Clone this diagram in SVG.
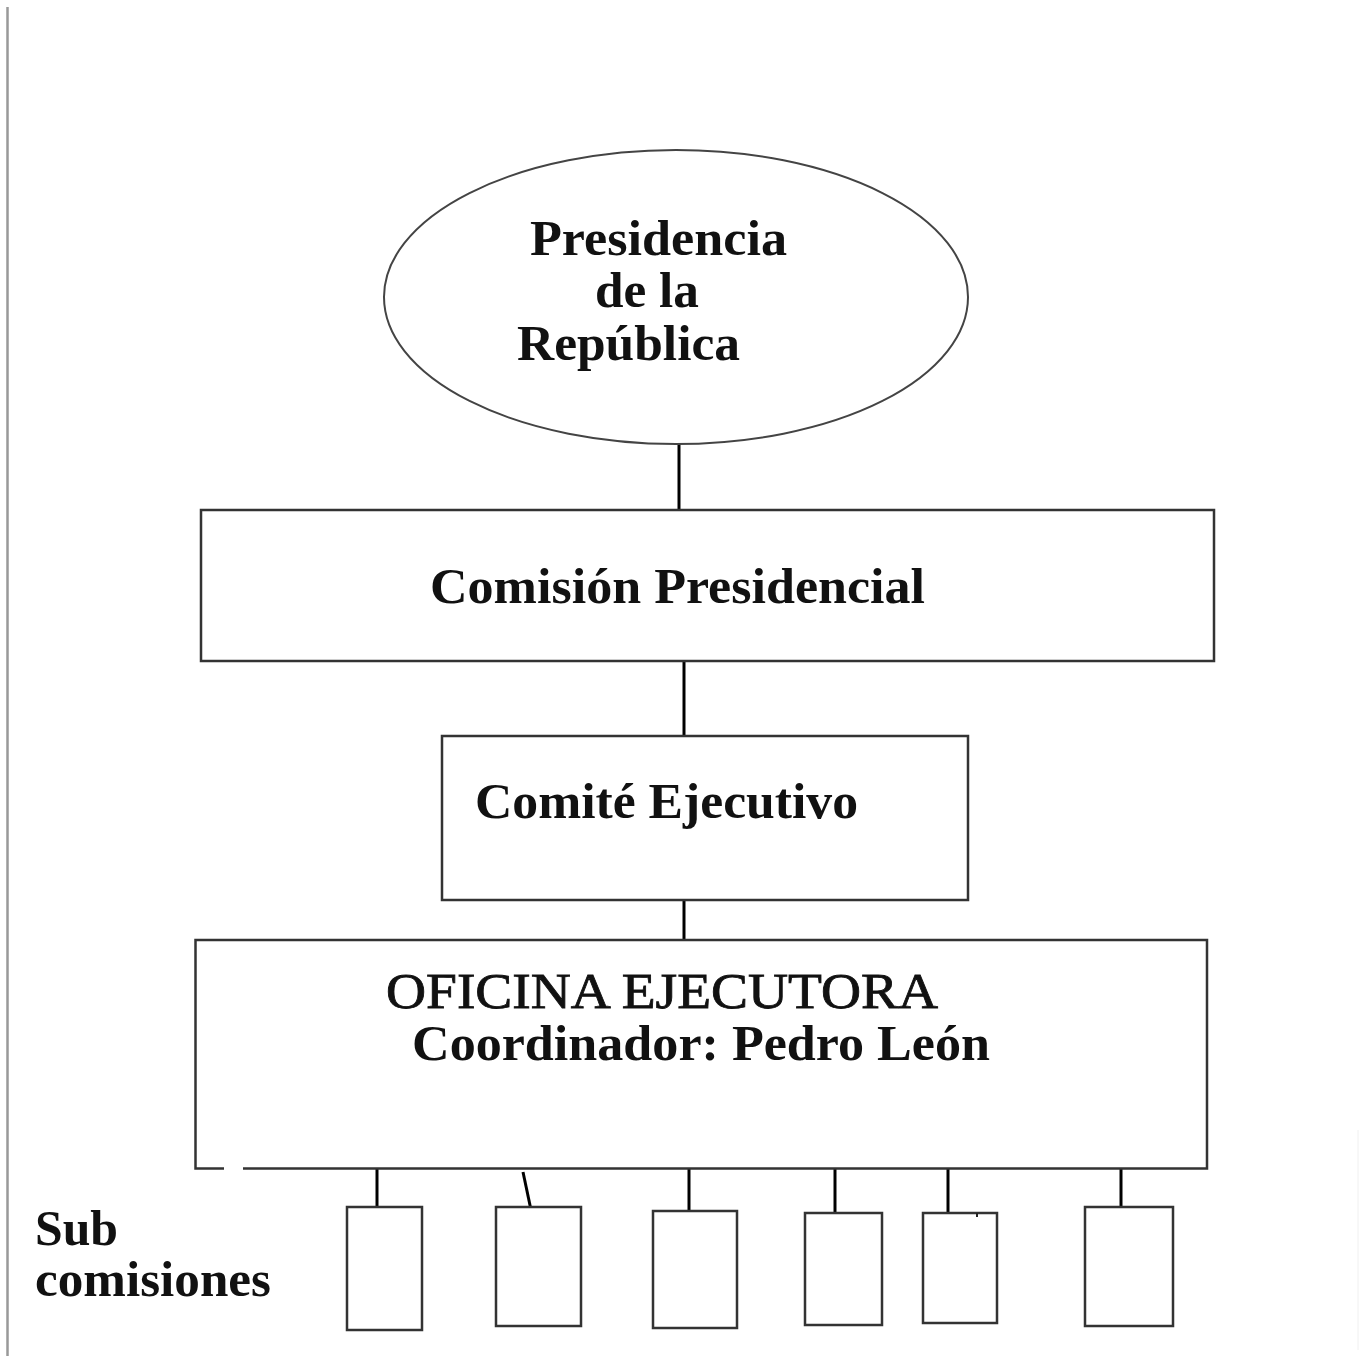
<svg xmlns="http://www.w3.org/2000/svg" width="1364" height="1356" viewBox="0 0 1364 1356">
<style>
.box{fill:#fff;stroke:#333;stroke-width:2.5}
.sub{fill:#fff;stroke:#333;stroke-width:2.5}
.conn{stroke:#000;stroke-width:3;fill:none}
.t{font-family:"Liberation Serif","Times New Roman",serif;font-weight:bold;font-size:50px;fill:#111}
.r{font-weight:normal;stroke:#111;stroke-width:0.8}
</style>
<rect x="0" y="0" width="1364" height="1356" fill="#fff"/>
<line x1="7.5" y1="7" x2="7.5" y2="1356" stroke="#999" stroke-width="2.5"/>
<line x1="1358" y1="1130" x2="1358" y2="1350" stroke="#f0f0f0" stroke-width="1"/>
<g id="connectors">
<line class="conn" x1="679" y1="444" x2="679" y2="510"/>
<line class="conn" x1="684" y1="661" x2="684" y2="736"/>
<line class="conn" x1="684" y1="900" x2="684" y2="940"/>
<line class="conn" x1="377" y1="1167" x2="377" y2="1207"/>
<line class="conn" x1="523" y1="1172" x2="531" y2="1210"/>
<line class="conn" x1="689" y1="1168" x2="689" y2="1211"/>
<line class="conn" x1="835" y1="1168" x2="835" y2="1215"/>
<line class="conn" x1="948" y1="1166" x2="948" y2="1213"/>
<line class="conn" x1="1121" y1="1168" x2="1121" y2="1212"/>
</g>
<g id="presidencia">
<ellipse cx="676" cy="297" rx="292" ry="147" fill="#fff" stroke="#444" stroke-width="2"/>
<text class="t" x="530" y="255" textLength="257" lengthAdjust="spacingAndGlyphs">Presidencia</text>
<text class="t" x="595" y="307" textLength="104" lengthAdjust="spacingAndGlyphs">de la</text>
<text class="t" x="517" y="360" textLength="223" lengthAdjust="spacingAndGlyphs">República</text>
</g>
<g id="comision">
<rect class="box" x="201" y="510" width="1013" height="151"/>
<text class="t" x="430" y="603" textLength="495" lengthAdjust="spacingAndGlyphs">Comisión Presidencial</text>
</g>
<g id="comite">
<rect class="box" x="442" y="736" width="526" height="164"/>
<text class="t" x="475" y="818" textLength="383" lengthAdjust="spacingAndGlyphs">Comité Ejecutivo</text>
</g>
<g id="oficina">
<path class="box" d="M224,1168.5 H195.5 V940 H1207 V1168.5 H243" />
<text class="t r" x="386" y="1008" textLength="552" lengthAdjust="spacingAndGlyphs">OFICINA EJECUTORA</text>
<text class="t" x="412" y="1060" textLength="578" lengthAdjust="spacingAndGlyphs">Coordinador: Pedro León</text>
</g>
<g id="subcomisiones-label">
<text class="t" x="35" y="1245" textLength="83" lengthAdjust="spacingAndGlyphs">Sub</text>
<text class="t" x="35" y="1296" textLength="236" lengthAdjust="spacingAndGlyphs">comisiones</text>
</g>
<g id="sub1"><rect class="sub" x="347" y="1207" width="75" height="123"/></g>
<g id="sub2"><rect class="sub" x="496" y="1207" width="85" height="119"/></g>
<g id="sub3"><rect class="sub" x="653" y="1211" width="84" height="117"/></g>
<g id="sub4"><rect class="sub" x="805" y="1213" width="77" height="112"/></g>
<g id="sub5"><rect class="sub" x="923" y="1213" width="74" height="110"/><line x1="977" y1="1213" x2="977" y2="1217" stroke="#222" stroke-width="2"/></g>
<g id="sub6"><rect class="sub" x="1085" y="1207" width="88" height="119"/></g>
</svg>
